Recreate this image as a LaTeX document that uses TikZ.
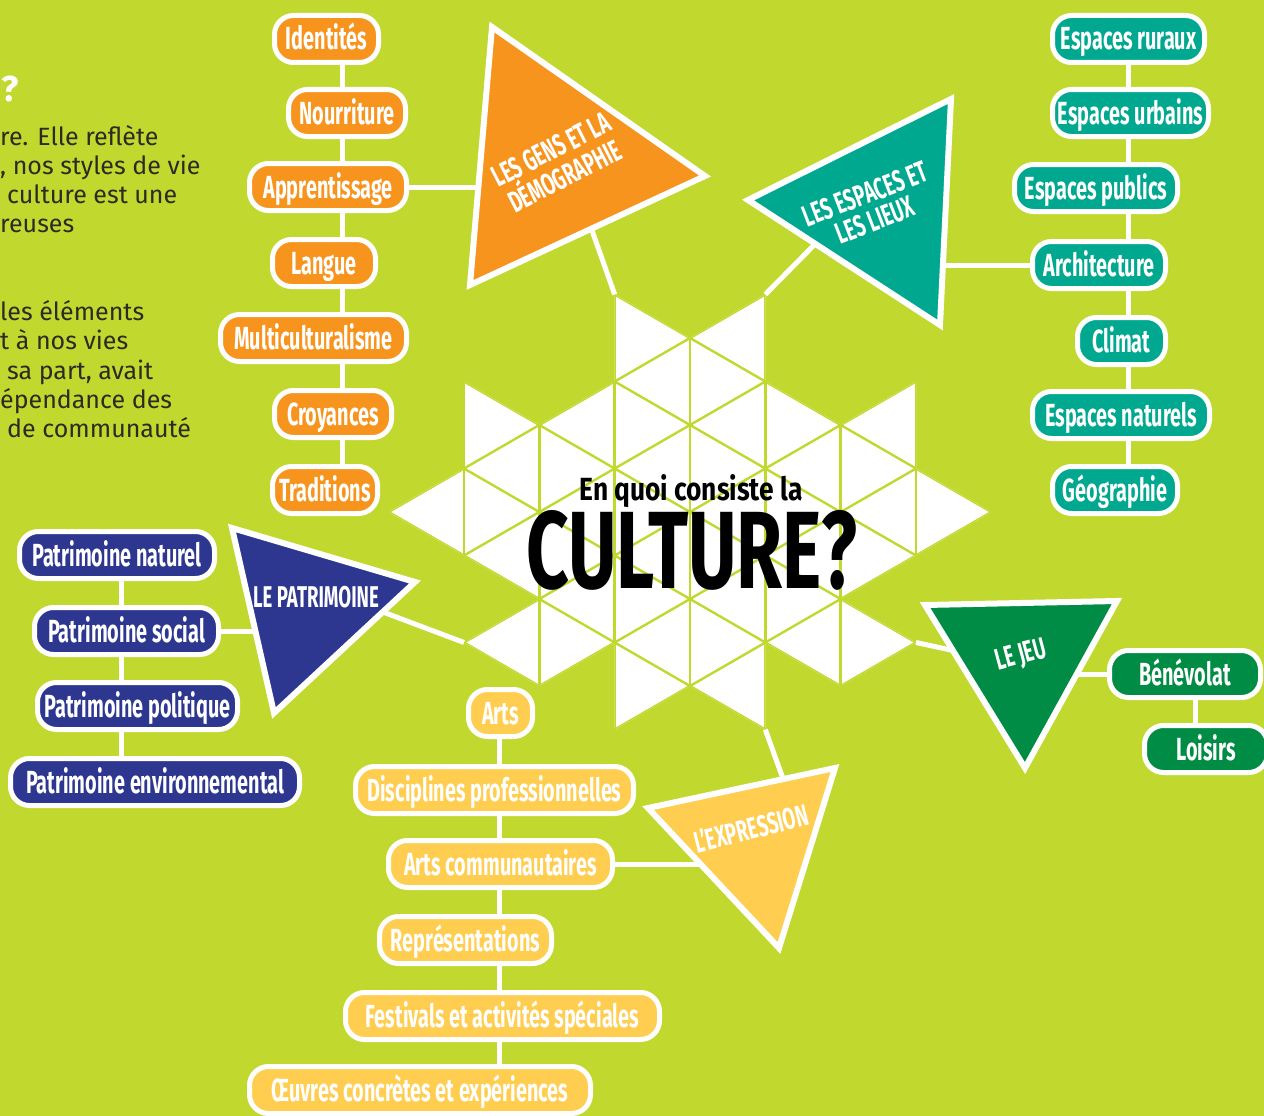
\documentclass[tikz,border=0pt]{standalone}
\usepackage{fontspec}
\usepackage{graphicx}
\setmainfont{Fira Sans}
\newfontfamily\condfont{Fira Sans}[FakeStretch=0.62]
\definecolor{lime}{HTML}{C1D82F}
\definecolor{gensorange}{HTML}{F7941D}
\definecolor{lieuxteal}{HTML}{00A88F}
\definecolor{patrblue}{HTML}{2E3790}
\definecolor{jeugreen}{HTML}{008C44}
\definecolor{expryellow}{HTML}{FFCD4F}
\definecolor{textgray}{HTML}{2B2B22}
\pgfdeclarelayer{back}
\pgfsetlayers{back,main}

\begin{document}
\begin{tikzpicture}[x=1pt,y=-1pt,
	box/.style={draw=white,line width=5pt,rounded corners=19pt,minimum height=47pt,
		inner xsep=4pt,inner ysep=0pt,text height=22pt,text depth=0pt,text=white,
		font=\condfont\bfseries\fontsize{32}{32}\selectfont},
	link/.style={draw=white,line width=5pt},
	tri/.style={draw=white,line width=6pt,line join=miter},
	trilabel/.style={text=white,align=center,inner sep=0pt,
		font=\condfont\bfseries\fontsize{30}{28}\selectfont},
	grid/.style={draw=lime,line width=2.4pt},
	para/.style={anchor=base west,inner sep=0pt,text=textgray,font=\fontsize{25}{29}\selectfont}]

		\useasboundingbox (0,0) rectangle (1264,1116);

		\begin{pgfonlayer}{back}
		\fill[lime] (0,0) rectangle (1264,1116);

		% star of small triangles
		\path[fill=white] (388.6,512) -- (464,468.5) -- (464,381.5) -- (539.3,425) -- (614.7,381.5)
			-- (614.7,294.5) -- (690,338) -- (765.3,294.5) -- (765.3,381.5) -- (840.7,425)
			-- (916,381.5) -- (916,468.5) -- (991.4,512) -- (916,555.5) -- (840.7,599)
			-- (916,642.5) -- (840.7,686) -- (765.3,642.5) -- (765.3,729.5) -- (690,686)
			-- (614.7,729.5) -- (614.7,642.5) -- (539.3,686) -- (464,642.5) -- (539.3,599)
			-- (464,555.5) -- cycle;
		\begin{scope}
			\clip (388.6,512) -- (464,468.5) -- (464,381.5) -- (539.3,425) -- (614.7,381.5)
				-- (614.7,294.5) -- (690,338) -- (765.3,294.5) -- (765.3,381.5) -- (840.7,425)
				-- (916,381.5) -- (916,468.5) -- (991.4,512) -- (916,555.5) -- (840.7,599)
				-- (916,642.5) -- (840.7,686) -- (765.3,642.5) -- (765.3,729.5) -- (690,686)
				-- (614.7,729.5) -- (614.7,642.5) -- (539.3,686) -- (464,642.5) -- (539.3,599)
				-- (464,555.5) -- cycle;
			\foreach \k in {-4,...,4}
				\draw[grid] ({690+\k*75.34},280) -- ({690+\k*75.34},740);
			\foreach \j in {-8,...,8} {
				\draw[grid] (380,{512+\j*87-179}) -- (1000,{512+\j*87+179});
				\draw[grid] (380,{512+\j*87+179}) -- (1000,{512+\j*87-179});
			}
		\end{scope}
		\end{pgfonlayer}

		\coordinate (star_nw) at (614.7,294.5);
		\coordinate (star_ne) at (765.3,294.5);
		\coordinate (star_w) at (464,642.5);
		\coordinate (star_e) at (916,642.5);
		\coordinate (star_s) at (765.3,729.5);

		% text cut at the left edge
		\node[anchor=base west,inner sep=0pt,text=white,font=\bfseries\fontsize{36}{36}\selectfont] (qmark) at (1,102) {?};
		\node[para] (para_1) at (0,145) {re. Elle reflète};
		\node[para] (para_2) at (0,174) {, nos styles de vie};
		\node[para] (para_3) at (7,203) {culture est une};
		\node[para] (para_4) at (0,232) {reuses};
		\node[para] (para_5) at (0,320) {les éléments};
		\node[para] (para_6) at (0,349) {t à nos vies};
		\node[para] (para_7) at (7,379) {sa part, avait};
		\node[para] (para_8) at (0,408) {épendance des};
		\node[para] (para_9) at (7,437) {de communauté};

		% triangles
		\coordinate (gens_a) at (492,27);
		\coordinate (gens_b) at (705,176);
		\coordinate (gens_c) at (470,285);
		\coordinate (gens_in) at (490,184);
		\coordinate (gens_out) at (589,222);
		\draw[tri,fill=gensorange] (gens_a) -- (gens_b) -- (gens_c) -- cycle;
		\node[trilabel,rotate=27] (gens) at (558,163) {LES GENS ET LA\\DÉMOGRAPHIE};

		\coordinate (lieux_a) at (748,200);
		\coordinate (lieux_b) at (951,99);
		\coordinate (lieux_c) at (940,325);
		\coordinate (lieux_in) at (935,265);
		\coordinate (lieux_out) at (822,237);
		\draw[tri,fill=lieuxteal] (lieux_a) -- (lieux_b) -- (lieux_c) -- cycle;
		\node[trilabel,rotate=21] (lieux) at (870,207) {LES ESPACES ET\\LES LIEUX};

		\coordinate (patr_a) at (232,528);
		\coordinate (patr_b) at (415,582);
		\coordinate (patr_c) at (274,713);
		\coordinate (patr_in) at (265,631);
		\coordinate (patr_out) at (375,609);
		\draw[tri,fill=patrblue] (patr_a) -- (patr_b) -- (patr_c) -- cycle;
		\node[trilabel] (patr) at (316,597) {LE PATRIMOINE};

		\coordinate (jeu_a) at (925,605);
		\coordinate (jeu_b) at (1117,601);
		\coordinate (jeu_c) at (1025,768);
		\coordinate (jeu_in) at (1070,672);
		\coordinate (jeu_out) at (960,652);
		\draw[tri,fill=jeugreen] (jeu_a) -- (jeu_b) -- (jeu_c) -- cycle;
		\node[trilabel,rotate=15] (jeu) at (1021,656) {LE JEU};

		\coordinate (expr_a) at (648,808);
		\coordinate (expr_b) at (835,768);
		\coordinate (expr_c) at (779,948);
		\coordinate (expr_in) at (712,866);
		\coordinate (expr_out) at (786,787);
		\draw[tri,fill=expryellow] (expr_a) -- (expr_b) -- (expr_c) -- cycle;
		\node[trilabel,rotate=14] (expr) at (751,828) {L’EXPRESSION};

		% boxes
		\node[box,fill=gensorange,minimum width=104pt] (gens_1) at (326.5,39) {Identités};
		\node[box,fill=gensorange,minimum width=117pt] (gens_2) at (347,113) {Nourriture};
		\node[box,fill=gensorange,minimum width=157pt] (gens_3) at (328,187) {Apprentissage};
		\node[box,fill=gensorange,minimum width=103pt] (gens_4) at (324,263) {Langue};
		\node[box,fill=gensorange,minimum width=186pt] (gens_5) at (313.5,338) {Multiculturalisme};
		\node[box,fill=gensorange,minimum width=117pt] (gens_6) at (333,414) {Croyances};
		\node[box,fill=gensorange,minimum width=105pt] (gens_7) at (325,490) {Traditions};
		\coordinate (gens_spine) at (342,0);

		\node[box,fill=lieuxteal,minimum width=152pt] (lieux_1) at (1128.5,39) {Espaces ruraux};
		\node[box,fill=lieuxteal,minimum width=156pt] (lieux_2) at (1130.5,113) {Espaces urbains};
		\node[box,fill=lieuxteal,minimum width=163pt] (lieux_3) at (1096,188) {Espaces publics};
		\node[box,fill=lieuxteal,minimum width=133pt] (lieux_4) at (1099,265) {Architecture};
		\node[box,fill=lieuxteal,minimum width=88pt] (lieux_5) at (1121.5,341) {Climat};
		\node[box,fill=lieuxteal,minimum width=177pt] (lieux_6) at (1121,415) {Espaces naturels};
		\node[box,fill=lieuxteal,minimum width=125pt] (lieux_7) at (1115,490) {Géographie};
		\coordinate (lieux_spine) at (1128,0);

		\node[box,fill=patrblue,minimum width=195pt] (patr_1) at (117,555) {Patrimoine naturel};
		\node[box,fill=patrblue,minimum width=184pt] (patr_2) at (126.5,631) {Patrimoine social};
		\node[box,fill=patrblue,minimum width=200pt] (patr_3) at (137.5,706) {Patrimoine politique};
		\node[box,fill=patrblue,minimum width=289pt] (patr_4) at (155,782) {Patrimoine environnemental};
		\coordinate (patr_spine) at (121,0);

		\node[box,fill=jeugreen,minimum width=151pt] (jeu_1) at (1185,674) {Bénévolat};
		\node[box,fill=jeugreen,minimum width=123pt] (jeu_2) at (1206,749) {Loisirs};
		\coordinate (jeu_spine) at (1195,0);

		\node[box,fill=expryellow,minimum width=64pt] (expr_1) at (500.5,713) {Arts};
		\node[box,fill=expryellow,minimum width=278pt] (expr_2) at (494.5,790) {Disciplines professionnelles};
		\node[box,fill=expryellow,minimum width=224pt] (expr_3) at (500.5,864) {Arts communautaires};
		\node[box,fill=expryellow,minimum width=172pt] (expr_4) at (465.5,940) {Représentations};
		\node[box,fill=expryellow,minimum width=314pt] (expr_5) at (502.5,1016) {Festivals et activités spéciales};
		\node[box,fill=expryellow,minimum width=341pt] (expr_6) at (420,1090) {Œuvres concrètes et expériences};
		\coordinate (expr_spine) at (499,0);

		% title
		\node[anchor=base,inner sep=0pt] (question) at (691,500.5)
			{\resizebox{223pt}{26pt}{\condfont\bfseries En quoi consiste la}};
		\node[anchor=base,inner sep=0pt] (culture) at (692,588)
			{\resizebox{331pt}{78pt}{\condfont\bfseries CULTURE?}};

		\begin{pgfonlayer}{back}
		\draw[link] (gens_1 -| gens_spine) -- (gens_7 -| gens_spine);
		\draw[link] (lieux_1 -| lieux_spine) -- (lieux_7 -| lieux_spine);
		\draw[link] (patr_1 -| patr_spine) -- (patr_4 -| patr_spine);
		\draw[link] (jeu_1 -| jeu_spine) -- (jeu_2 -| jeu_spine);
		\draw[link] (expr_1 -| expr_spine) -- (expr_6 -| expr_spine);
		\draw[link] (gens_3) -- (gens_3 -| gens_in);
		\draw[link] (lieux_4) -- (lieux_4 -| lieux_in);
		\draw[link] (patr_2) -- (patr_2 -| patr_in);
		\draw[link] (jeu_1) -- (jeu_1 -| jeu_in);
		\draw[link] (expr_3) -- (expr_3 -| expr_in);
		\draw[link] (star_nw) -- (gens_out);
		\draw[link] (star_ne) -- (lieux_out);
		\draw[link] (star_w) -- (patr_out);
		\draw[link] (star_e) -- (jeu_out);
		\draw[link] (star_s) -- (expr_out);
		\end{pgfonlayer}
		\end{tikzpicture}
\end{document}
